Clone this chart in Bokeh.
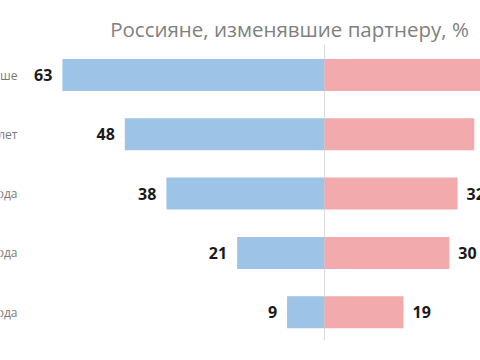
from bokeh.plotting import figure
from bokeh.models import Range1d, ColumnDataSource, Label
from bokeh.core.properties import value
from bokeh.embed import file_html
from bokeh.resources import INLINE

# Data
categories = ["55 лет и старше", "45–54 лет", "35–44 года", "25–34 года", "18–24 года"]
blue_values = [63, 48, 38, 21, 9]
pink_values = [44, 36, 32, 30, 19]
title_text = "Россияне, изменявшие партнеру, %"

W, H = 480, 360
px_per_unit = 4.16
zero_px = 324
x_start = -zero_px / px_per_unit
x_end = (W - zero_px) / px_per_unit
row_px = 59.3
first_row_px = 74.5
y_top = -first_row_px / row_px
y_bottom = (H - first_row_px) / row_px

p = figure(width=W, height=H, output_backend="svg", toolbar_location=None,
           x_range=Range1d(x_start, x_end), y_range=Range1d(y_bottom, y_top),
           min_border=0, outline_line_color=None)
p.axis.visible = False
p.grid.visible = False
p.background_fill_color = "white"
p.border_fill_color = "white"

rows = list(range(len(categories)))
src = ColumnDataSource(dict(
    row=rows,
    cat=categories,
    blue=[-v for v in blue_values],
    pink=pink_values,
    blue_lbl=[str(v) for v in blue_values],
    pink_lbl=[str(v) for v in pink_values],
    blue_lbl_x=[-v - 10 / px_per_unit for v in blue_values],
    pink_lbl_x=[v + 9 / px_per_unit for v in pink_values],
    cat_x=[x_start + 17 / px_per_unit for _ in categories],
))

# center line
p.segment(x0=[0], x1=[0], y0=[y_top + 44 / row_px], y1=[y_top + 340 / row_px],
          line_color="#dcdcdc", line_width=1)

bar_h = 32 / row_px
p.hbar(y="row", left="blue", right=0, height=bar_h, source=src,
       fill_color="#9dc3e6", line_color=None)
p.hbar(y="row", left=0, right="pink", height=bar_h, source=src,
       fill_color="#f2aaad", line_color=None)

p.text(x="blue_lbl_x", y="row", text="blue_lbl", source=src,
       text_align="right", text_baseline="middle",
       text_font=value("Open Sans"), text_font_size="16px",
       text_font_style="bold", text_color="#1a1a1a")
p.text(x="pink_lbl_x", y="row", text="pink_lbl", source=src,
       text_align="left", text_baseline="middle",
       text_font=value("Open Sans"), text_font_size="16px",
       text_font_style="bold", text_color="#1a1a1a")
p.text(x="cat_x", y="row", text="cat", source=src,
       text_align="right", text_baseline="middle",
       text_font=value("Open Sans"), text_font_size="12px",
       text_color="#7a7a7a")

title = Label(x=289, y=H - 28, x_units="screen", y_units="screen", text=title_text,
              text_align="center", text_baseline="middle",
              text_font="Open Sans", text_font_size="20.5px", text_color="#7f7f7f")
p.add_layout(title)

open("out.html", "w").write(file_html(p, INLINE))
